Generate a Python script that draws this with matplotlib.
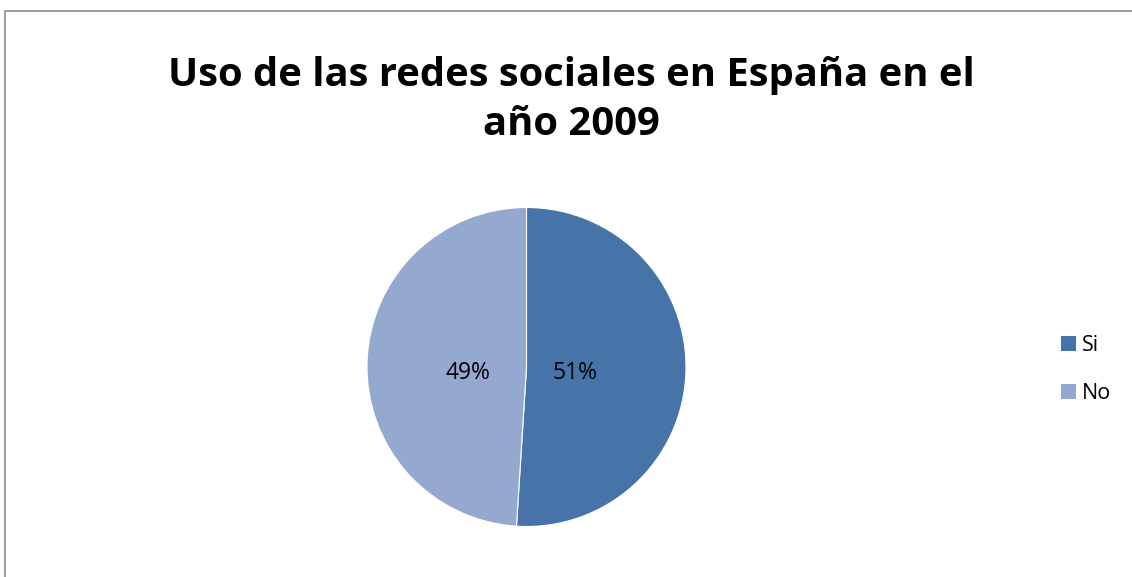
import matplotlib.pyplot as plt
from matplotlib.lines import Line2D
from matplotlib.patches import Patch

labels = ['Si', 'No']
values = [51, 49]
colors = ['#4673A8', '#95A9D0']
title = 'Uso de las redes sociales en España en el\naño 2009'

W, H = 1132, 577
fig = plt.figure(figsize=(W / 100, H / 100), dpi=100)
plt.rcParams['font.family'] = ['Open Sans', 'DejaVu Sans']

# pie placed in pixel terms: center (526.5, 367), radius 159.5
cx, cy, r = 526.5, 367, 159.5
ax = fig.add_axes([(cx - r) / W, (H - cy - r) / H, 2 * r / W, 2 * r / H])
wedges, texts, autotexts = ax.pie(values, colors=colors, startangle=90, counterclock=False,
                                  autopct='%1.0f%%', pctdistance=0.31,
                                  wedgeprops=dict(edgecolor='white', linewidth=0.8),
                                  textprops=dict(fontsize=16.5, color='black'))
# Excel puts the percentages on one line, a bit below the centre
autotexts[0].set_position((0.305, -0.04))
autotexts[1].set_position((-0.37, -0.04))
ax.set_xlim(-1, 1)
ax.set_ylim(-1, 1)
ax.set_aspect('auto')
ax.axis('off')

fig.text(571 / W, 1 - 100 / H, title, ha='center', va='center', fontsize=28.8,
         fontweight='bold', linespacing=1.33)

handles = [Patch(facecolor=c, edgecolor='none') for c in colors]
fig.legend(handles, labels, loc='center left', bbox_to_anchor=(1060.7 / W, 1 - 369.5 / H),
           frameon=False, fontsize=15.5, handlelength=0.7, handleheight=0.7,
           handletextpad=0.28, labelspacing=1.23, borderpad=0, borderaxespad=0)

# chart border (only top and left edges visible in the crop)
fig.add_artist(Line2D([4.5 / W, 4.5 / W, 1], [0, 1 - 10.5 / H, 1 - 10.5 / H],
                      transform=fig.transFigure, color='#8c8c8c', linewidth=1.2))

fig.savefig('out.png', dpi=100)
